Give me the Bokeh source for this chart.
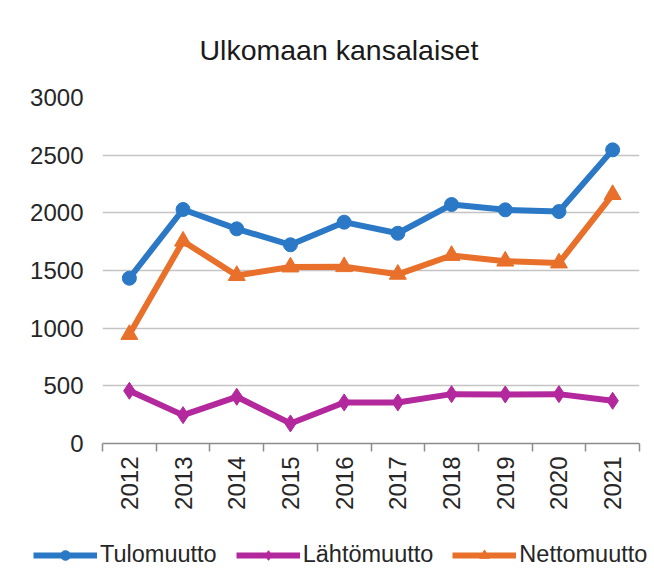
import numpy as np
from bokeh.plotting import figure
from bokeh.layouts import column
from bokeh.models import Range1d, FixedTicker, Legend, LegendItem
from bokeh.embed import file_html
from bokeh.resources import INLINE

# ---- data ----
years = ["2012", "2013", "2014", "2015", "2016", "2017", "2018", "2019", "2020", "2021"]
tulomuutto = [1433, 2029, 1861, 1723, 1919, 1823, 2072, 2026, 2011, 2546]
lahtomuutto = [457, 246, 405, 174, 356, 356, 428, 425, 428, 370]
nettomuutto = [945, 1754, 1456, 1530, 1533, 1467, 1630, 1581, 1565, 2158]
y_ticks = [0, 500, 1000, 1500, 2000, 2500, 3000]
series = [("Tulomuutto", tulomuutto, "#2a78c6", "circle", 14),
          ("Lähtömuutto", lahtomuutto, "#b3289c", "diamond", 17),
          ("Nettomuutto", nettomuutto, "#e8702a", "triangle", 17)]
FONT = "Liberation Sans"

x = np.arange(len(years)) + 0.5

p = figure(width=654, height=530,
           x_range=Range1d(0, len(years)), y_range=Range1d(0, 3000),
           output_backend="svg", toolbar_location=None,
           min_border_left=102, min_border_right=15,
           min_border_top=97, min_border_bottom=87)
p.outline_line_color = None
p.frame_align = False

p.title.text = "Ulkomaan kansalaiset"
p.title.align = "left"
p.title.vertical_align = "middle"
p.title.offset = 97
p.title.standoff = 62
p.title.text_font = FONT
p.title.text_font_size = "28.5px"
p.title.text_font_style = "normal"
p.title.text_color = "#1a1a1a"

# x axis: labels at category centres, ticks at category boundaries
p.xaxis.ticker = FixedTicker(ticks=list(x), minor_ticks=list(range(len(years) + 1)))
p.xaxis.major_label_overrides = {float(xi): yr for xi, yr in zip(x, years)}
p.xaxis.major_label_orientation = np.pi / 2
p.xaxis.major_tick_out = 0
p.xaxis.major_tick_in = 0
p.xaxis.minor_tick_out = 8
p.xaxis.minor_tick_in = 0
p.xaxis.minor_tick_line_color = "#8c8c8c"
p.xaxis.axis_line_color = "#8c8c8c"
p.xaxis.axis_line_width = 1.5
p.xaxis.minor_tick_line_width = 1.5
p.xaxis.major_label_standoff = 5
p.xaxis.major_label_text_font = FONT
p.xaxis.major_label_text_font_size = "24px"
p.xaxis.major_label_text_color = "#262626"
p.xgrid.visible = False

# y axis
p.yaxis.ticker = FixedTicker(ticks=y_ticks)
p.yaxis.axis_line_color = None
p.yaxis.major_tick_line_color = None
p.yaxis.minor_tick_line_color = None
p.yaxis.major_label_standoff = 13
p.yaxis.major_label_text_font = FONT
p.yaxis.major_label_text_font_size = "24px"
p.yaxis.major_label_text_color = "#262626"
p.ygrid.ticker = FixedTicker(ticks=y_ticks)
p.ygrid.grid_line_color = "#c4c4c4"
p.ygrid.grid_line_width = 1.5

for name, vals, col, mk, sz in series:
    p.line(x, vals, line_color=col, line_width=6)
    p.scatter(x, vals, marker=mk, size=sz, fill_color=col, line_color=col)

# legend strip below the chart (same series; its ranges keep the marks out of view)
lf = figure(width=654, height=52, x_range=Range1d(0, len(years)), y_range=Range1d(-2, -1),
            output_backend="svg", toolbar_location=None,
            min_border_left=0, min_border_right=0, min_border_top=0, min_border_bottom=0)
lf.frame_align = False
lf.axis.visible = False
lf.grid.visible = False
lf.outline_line_color = None
items = []
for name, vals, col, mk, sz in series:
    rl = lf.line(x, vals, line_color=col, line_width=6)
    rs = lf.scatter(x, vals, marker=mk, size=sz, fill_color=col, line_color=col)
    items.append(LegendItem(label=name, renderers=[rl, rs]))

legend = Legend(items=items, orientation="horizontal", location=(33, 14),
                glyph_width=64, glyph_height=24, label_standoff=3, spacing=19,
                padding=0, margin=0, border_line_color=None, background_fill_alpha=0,
                label_text_font=FONT, label_text_font_size="23.5px", label_text_color="#262626")
lf.add_layout(legend, "center")

layout = column(p, lf, spacing=0)
open("out.html", "w").write(file_html(layout, INLINE))
